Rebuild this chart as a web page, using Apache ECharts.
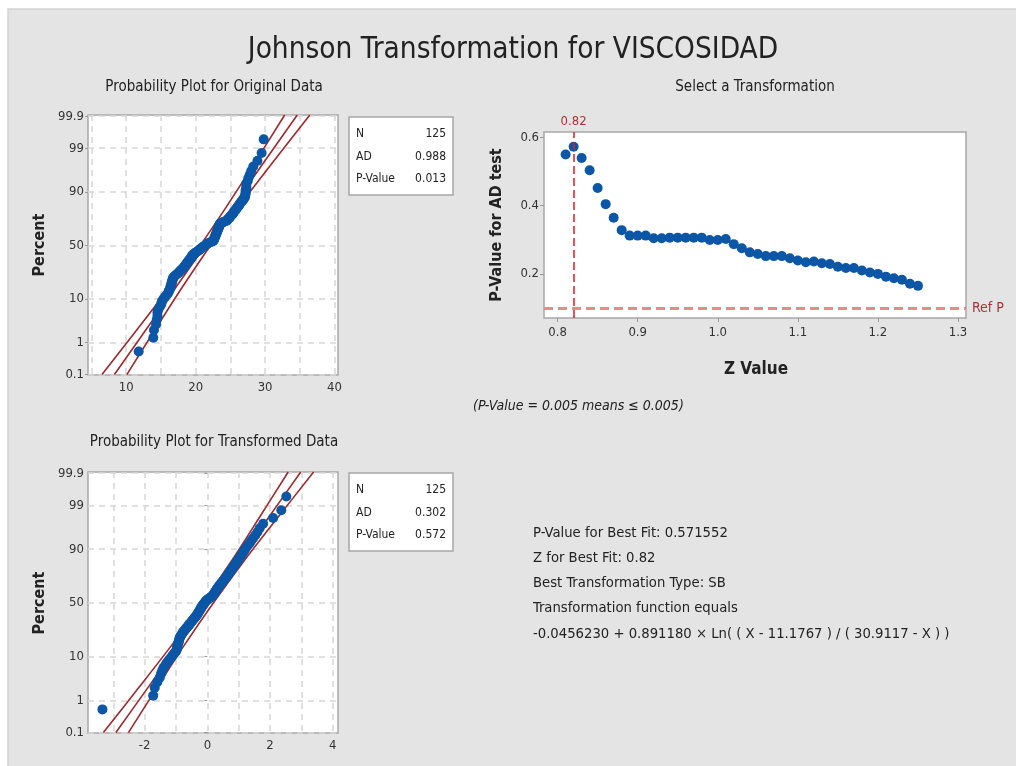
<!DOCTYPE html>
<html>
<head>
<meta charset="utf-8">
<title>Johnson Transformation for VISCOSIDAD</title>
<script src="https://cdn.jsdelivr.net/npm/echarts@6/dist/echarts.min.js"></script>
<style>
    html, body { margin: 0; padding: 0; background: #fff; }
    #main { width: 1016px; height: 766px; }
</style>
</head>
<body>
<div id="main"></div>
<script>
    // sorted VISCOSIDAD values (n = 125)
    var origValues = [
        11.8, 13.9, 14.0, 14.3, 14.4, 14.5, 14.5, 14.6, 14.8, 15.0,
        15.1, 15.2, 15.4, 15.6, 15.8, 16.0, 16.1, 16.2, 16.3, 16.4,
        16.4, 16.5, 16.5, 16.6, 16.6, 16.7, 16.7, 16.8, 16.9, 17.1,
        17.3, 17.5, 17.6, 17.7, 17.9, 18.0, 18.2, 18.3, 18.4, 18.5,
        18.6, 18.7, 18.8, 18.9, 19.0, 19.1, 19.2, 19.3, 19.4, 19.5,
        19.5, 19.6, 19.8, 19.9, 20.1, 20.3, 20.4, 20.6, 20.7, 20.9,
        21.0, 21.2, 21.4, 21.5, 21.7, 21.9, 22.2, 22.5, 22.6, 22.6,
        22.7, 22.7, 22.8, 22.8, 22.9, 22.9, 23.0, 23.0, 23.1, 23.1,
        23.2, 23.2, 23.3, 23.3, 23.4, 23.4, 23.5, 23.5, 23.8, 24.1,
        24.5, 24.6, 24.7, 24.9, 25.0, 25.1, 25.3, 25.4, 25.5, 25.6,
        25.8, 25.9, 26.0, 26.2, 26.3, 26.4, 26.6, 26.8, 26.9, 27.1,
        27.1, 27.2, 27.2, 27.2, 27.3, 27.3, 27.3, 27.5, 27.6, 27.8,
        28.0, 28.3, 28.9, 29.5, 29.8
    ];
    // sorted transformed values
    var transValues = [
        -3.35, -1.73, -1.68, -1.60, -1.52, -1.48, -1.44, -1.40, -1.34, -1.29,
        -1.24, -1.18, -1.13, -1.09, -1.04, -1.00, -0.98, -0.97, -0.96, -0.95,
        -0.94, -0.92, -0.91, -0.90, -0.89, -0.88, -0.86, -0.84, -0.81, -0.79,
        -0.77, -0.74, -0.71, -0.69, -0.66, -0.63, -0.61, -0.58, -0.56, -0.54,
        -0.51, -0.49, -0.47, -0.44, -0.42, -0.40, -0.37, -0.35, -0.33, -0.31,
        -0.30, -0.28, -0.26, -0.25, -0.23, -0.21, -0.20, -0.19, -0.17, -0.15,
        -0.13, -0.11, -0.09, -0.07, -0.05, -0.03, 0.01, 0.04, 0.08, 0.12,
        0.15, 0.18, 0.20, 0.22, 0.24, 0.25, 0.27, 0.29, 0.30, 0.32,
        0.34, 0.36, 0.38, 0.41, 0.43, 0.46, 0.48, 0.51, 0.53, 0.56,
        0.58, 0.61, 0.63, 0.65, 0.68, 0.70, 0.72, 0.75, 0.77, 0.80,
        0.82, 0.85, 0.88, 0.91, 0.94, 0.97, 1.00, 1.03, 1.06, 1.10,
        1.13, 1.17, 1.20, 1.24, 1.29, 1.35, 1.40, 1.46, 1.53, 1.60,
        1.67, 1.78, 2.10, 2.36, 2.52
    ];

    // fitted line and confidence band (x values at the band z positions)
    var bandZ = [-3.09, -2, -1, 0, 1, 2, 3.12];
    var origFit = [8.30, 12.92, 17.16, 21.40, 25.64, 29.88, 34.63];
    var origLower = [6.51, 11.63, 16.25, 20.66, 24.73, 28.59, 32.82];
    var origUpper = [10.09, 14.21, 18.07, 22.14, 26.55, 31.17, 36.44];
    var transFit = [-2.92, -1.88, -0.93, 0.02, 0.97, 1.92, 2.98];
    var transLower = [-3.32, -2.17, -1.13, -0.15, 0.77, 1.63, 2.58];
    var transUpper = [-2.52, -1.59, -0.73, 0.19, 1.17, 2.21, 3.39];

    // Select a Transformation
    var zValues = [
        0.81, 0.82, 0.83, 0.84, 0.85, 0.86, 0.87, 0.88, 0.89, 0.90,
        0.91, 0.92, 0.93, 0.94, 0.95, 0.96, 0.97, 0.98, 0.99, 1.00,
        1.01, 1.02, 1.03, 1.04, 1.05, 1.06, 1.07, 1.08, 1.09, 1.10,
        1.11, 1.12, 1.13, 1.14, 1.15, 1.16, 1.17, 1.18, 1.19, 1.20,
        1.21, 1.22, 1.23, 1.24, 1.25
    ];
    var pValues = [
        0.549, 0.572, 0.539, 0.503, 0.451, 0.404, 0.364, 0.328, 0.312, 0.312,
        0.312, 0.304, 0.304, 0.306, 0.306, 0.306, 0.306, 0.306, 0.299, 0.299,
        0.302, 0.287, 0.275, 0.263, 0.258, 0.252, 0.252, 0.252, 0.246, 0.239,
        0.234, 0.236, 0.231, 0.229, 0.221, 0.217, 0.217, 0.210, 0.204, 0.200,
        0.192, 0.187, 0.183, 0.171, 0.165
    ];
    var refP = 0.1;
    var bestZ = 0.82;

    // ticks and labels
    var probTicks = [0.1, 1, 10, 50, 90, 99, 99.9];
    var origXLabels = [10, 20, 30, 40];
    var origXGrid = [5, 10, 15, 20, 25, 30, 35, 40];
    var transXLabels = [-2, 0, 2, 4];
    var transXGrid = [-3, -2, -1, 0, 1, 2, 3, 4];
    var selXLabels = [0.8, 0.9, 1.0, 1.1, 1.2, 1.3];
    var selYLabels = [0.2, 0.4, 0.6];

    var origStats = [["N", "125"], ["AD", "0.988"], ["P-Value", "0.013"]];
    var transStats = [["N", "125"], ["AD", "0.302"], ["P-Value", "0.572"]];
    var summaryLines = [
        "P-Value for Best Fit: 0.571552",
        "Z for Best Fit: 0.82",
        "Best Transformation Type: SB",
        "Transformation function equals",
        "-0.0456230 + 0.891180 \u00d7 Ln( ( X - 11.1767 ) / ( 30.9117 - X ) )"
    ];

    var FONT = "'Liberation Sans Narrow', 'DejaVu Sans Condensed', 'Open Sans', sans-serif";
    var BLUE = "#0b56a6";
    var RED = "#a0282b";
    var TEXT = "#222";

    /**
     * inverse standard normal cdf (Acklam)
     * @param p
     * @returns {number}
     */
    function invNorm(p) {
        var a = [-3.969683028665376e+01, 2.209460984245205e+02, -2.759285104469687e+02, 1.383577518672690e+02, -3.066479806614716e+01, 2.506628277459239e+00],
            b = [-5.447609879822406e+01, 1.615858368580409e+02, -1.556989798598866e+02, 6.680131188771972e+01, -1.328068155288572e+01],
            c = [-7.784894002430293e-03, -3.223964580411365e-01, -2.400758277161838e+00, -2.549732539343734e+00, 4.374664141464968e+00, 2.938163982698783e+00],
            d = [7.784695709041462e-03, 3.224671290700398e-01, 2.445134137142996e+00, 3.754408661907416e+00];
        var pl = 0.02425, q, r;
        if (p < pl) {
            q = Math.sqrt(-2 * Math.log(p));
            return (((((c[0] * q + c[1]) * q + c[2]) * q + c[3]) * q + c[4]) * q + c[5]) / ((((d[0] * q + d[1]) * q + d[2]) * q + d[3]) * q + 1);
        }
        if (p > 1 - pl) {
            q = Math.sqrt(-2 * Math.log(1 - p));
            return -(((((c[0] * q + c[1]) * q + c[2]) * q + c[3]) * q + c[4]) * q + c[5]) / ((((d[0] * q + d[1]) * q + d[2]) * q + d[3]) * q + 1);
        }
        q = p - 0.5;
        r = q * q;
        return (((((a[0] * r + a[1]) * r + a[2]) * r + a[3]) * r + a[4]) * r + a[5]) * q / (((((b[0] * r + b[1]) * r + b[2]) * r + b[3]) * r + b[4]) * r + 1);
    }

    var probZ = probTicks.map(function (p) { return invNorm(p / 100); });

    /**
     * sorted values -> [x, z] using median ranks
     * @param values
     */
    function probPoints(values) {
        var n = values.length;
        return values.map(function (v, i) {
            return [v, invNorm((i + 1 - 0.3) / (n + 0.4))];
        });
    }

    function bandLine(xs) {
        return bandZ.map(function (z, i) { return [xs[i], z]; });
    }

    function probLabel(value) {
        for (var i = 0; i < probZ.length; i++) {
            if (Math.abs(probZ[i] - value) < 1e-6) return String(probTicks[i]);
        }
        return "";
    }

    function probXAxis(idx, min, max, grid, labels) {
        return {
            type: "value", gridIndex: idx, min: min, max: max,
            axisLine: {show: false},
            axisTick: {show: false, customValues: grid},
            axisLabel: {customValues: labels, color: "#333", fontSize: 13, fontFamily: FONT, margin: 6},
            splitLine: {show: true, lineStyle: {color: "#d6d6d6", type: [6, 5], width: 1.5}}
        };
    }

    function probYAxis(idx) {
        return {
            type: "value", gridIndex: idx, min: -3.1, max: 3.12,
            axisLine: {show: false},
            axisTick: {show: true, customValues: probZ, length: 3, lineStyle: {color: "#999"}},
            axisLabel: {customValues: probZ, formatter: probLabel, color: "#333", fontSize: 13, fontFamily: FONT, margin: 4},
            splitLine: {show: true, lineStyle: {color: "#d6d6d6", type: [6, 5], width: 1.5}}
        };
    }

    function lineSeries(idx, pts) {
        return {
            type: "line", xAxisIndex: idx, yAxisIndex: idx, data: pts,
            showSymbol: false, smooth: 0.3, silent: true, z: 2,
            lineStyle: {color: RED, width: 1.6}
        };
    }

    function scatterSeries(idx, pts) {
        return {
            type: "scatter", xAxisIndex: idx, yAxisIndex: idx, data: pts,
            symbolSize: 10, z: 3, itemStyle: {color: BLUE, opacity: 1}
        };
    }

    function text(x, y, str, size, opts) {
        opts = opts || {};
        return {
            type: "text", x: x, y: y, rotation: opts.rotation || 0, z: 10,
            style: {
                text: str, fill: opts.color || TEXT,
                font: (opts.style || "normal") + " " + (opts.weight || "normal") + " " + size + "px " + FONT,
                align: opts.align || "center", verticalAlign: "middle"
            }
        };
    }

    function statsBox(top, rows) {
        var els = [{
            type: "rect", shape: {x: 349, y: top, width: 104, height: 78}, z: 5,
            style: {fill: "#fff", stroke: "#a6a6a6", lineWidth: 1.5}
        }];
        rows.forEach(function (r, i) {
            els.push(text(356, top + 17 + i * 22.5, r[0], 12, {align: "left"}));
            els.push(text(446, top + 17 + i * 22.5, r[1], 12, {align: "right"}));
        });
        return els;
    }

    var graphics = [
        {type: "rect", shape: {x: 8, y: 9, width: 1010, height: 760}, z: -10,
            style: {fill: "#e4e4e4", stroke: "#d2d2d2", lineWidth: 1.5}},
        text(513, 50, "Johnson Transformation for VISCOSIDAD", 29.5),
        text(214, 87, "Probability Plot for Original Data", 15),
        text(755, 87, "Select a Transformation", 15),
        text(214, 442, "Probability Plot for Transformed Data", 15),
        text(40, 245, "Percent", 16, {rotation: Math.PI / 2, weight: "bold"}),
        text(40, 603, "Percent", 16, {rotation: Math.PI / 2, weight: "bold"}),
        text(497, 225, "P-Value for AD test", 16, {rotation: Math.PI / 2, weight: "bold"}),
        text(756, 370, "Z Value", 17, {weight: "bold"}),
        text(473, 406, "(P-Value = 0.005 means \u2264 0.005)", 14, {align: "left", style: "italic"})
    ];
    graphics = graphics.concat(statsBox(117, origStats), statsBox(473, transStats));
    summaryLines.forEach(function (s, i) {
        graphics.push(text(533, 533 + i * 25.2, s, 14.7, {align: "left"}));
    });

    var gridStyle = {show: true, backgroundColor: "#fff", borderColor: "#a8a8a8", borderWidth: 1.5};

    var option = {
        backgroundColor: "#fff",
        animation: false,
        grid: [
            Object.assign({left: 88, top: 115, width: 250, height: 260}, gridStyle),
            Object.assign({left: 544, top: 132, width: 422, height: 186}, gridStyle),
            Object.assign({left: 88, top: 472, width: 250, height: 261}, gridStyle)
        ],
        xAxis: [
            probXAxis(0, 4.5, 40.5, origXGrid, origXLabels),
            {
                type: "value", gridIndex: 1, min: 0.783, max: 1.31,
                axisLine: {show: false},
                axisTick: {show: true, customValues: selXLabels, length: 4, lineStyle: {color: "#999"}},
                axisLabel: {customValues: selXLabels, color: "#333", fontSize: 13, fontFamily: FONT, margin: 8,
                    formatter: function (v) { return v.toFixed(1); }},
                splitLine: {show: false}
            },
            probXAxis(2, -3.81, 4.17, transXGrid, transXLabels)
        ],
        yAxis: [
            probYAxis(0),
            {
                type: "value", gridIndex: 1, min: 0.071, max: 0.615,
                axisLine: {show: false},
                axisTick: {show: true, customValues: selYLabels, length: 4, lineStyle: {color: "#999"}},
                axisLabel: {customValues: selYLabels, color: "#333", fontSize: 13, fontFamily: FONT, margin: 5,
                    formatter: function (v) { return v.toFixed(1); }},
                splitLine: {show: false}
            },
            probYAxis(2)
        ],
        graphic: graphics,
        series: [
            lineSeries(0, bandLine(origLower)),
            lineSeries(0, bandLine(origFit)),
            lineSeries(0, bandLine(origUpper)),
            scatterSeries(0, probPoints(origValues)),
            {
                type: "scatter", xAxisIndex: 1, yAxisIndex: 1, symbolSize: 10, z: 3,
                itemStyle: {color: BLUE, opacity: 1},
                data: zValues.map(function (z, i) { return [z, pValues[i]]; }),
                markLine: {
                    symbol: "none", silent: true, animation: false,
                    data: [
                        {yAxis: refP, lineStyle: {color: "#e88a8a", type: [9, 5], width: 3},
                            label: {show: true, position: "end", formatter: "Ref P", color: "#a83236", fontSize: 14, fontFamily: FONT, distance: 6}},
                        {xAxis: bestZ, lineStyle: {color: "#e01b1b", type: [8, 4], width: 1.5},
                            label: {show: true, position: "end", formatter: "0.82", color: "#a83236", fontSize: 13, fontFamily: FONT, distance: 4}}
                    ]
                }
            },
            lineSeries(2, bandLine(transLower)),
            lineSeries(2, bandLine(transFit)),
            lineSeries(2, bandLine(transUpper)),
            scatterSeries(2, probPoints(transValues))
        ]
    };

    var chart = echarts.init(document.getElementById("main"), null, {renderer: "canvas"});
    chart.setOption(option);
</script>
</body>
</html>
